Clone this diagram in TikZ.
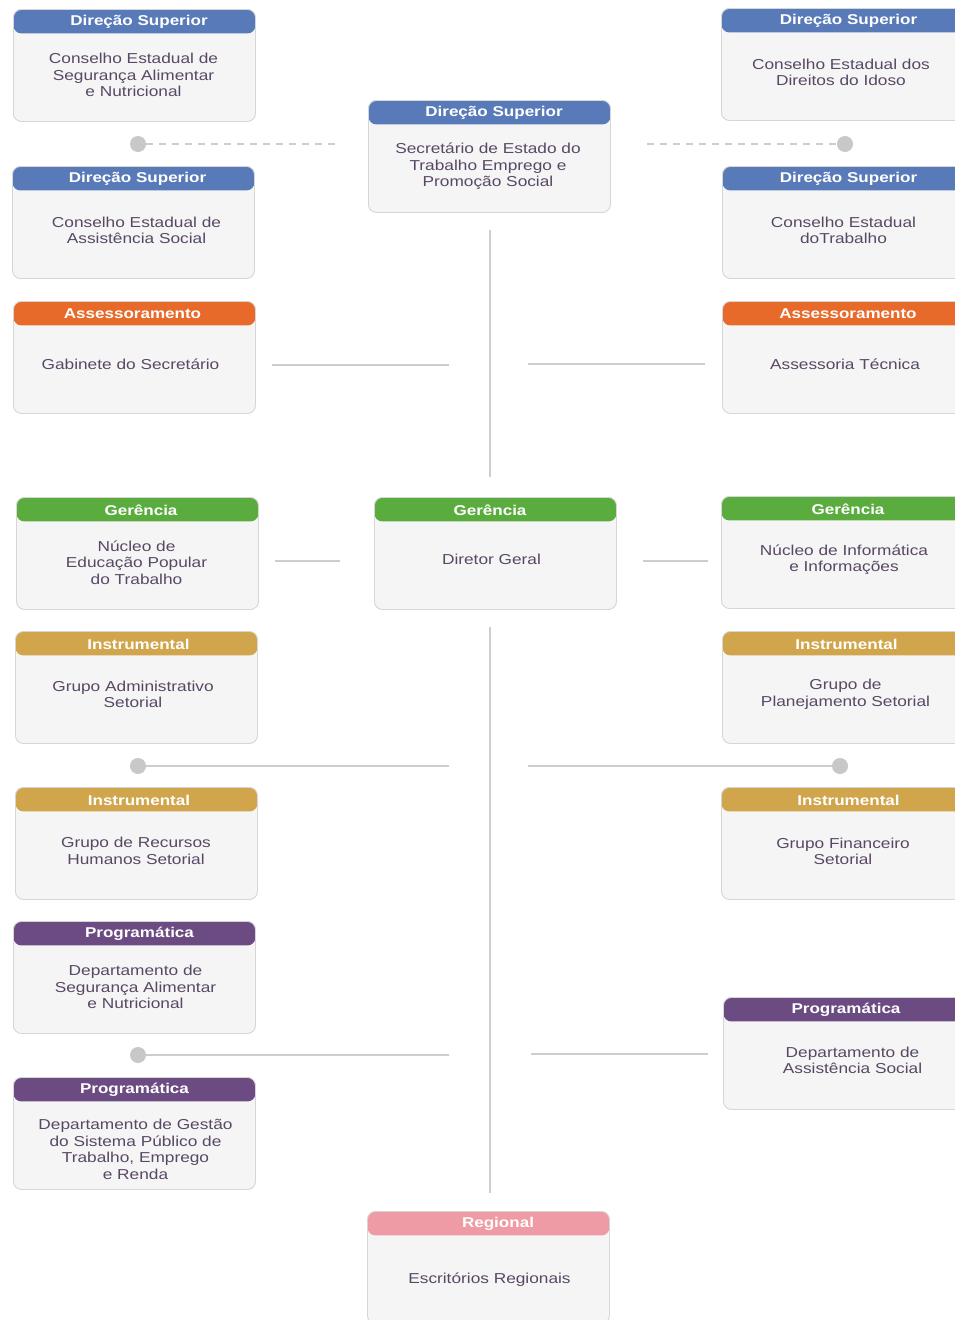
\documentclass[tikz,border=0pt]{standalone}
\usepackage{fontspec}
\setmainfont{Liberation Sans}[FakeStretch=1.2]
\definecolor{hblue}{RGB}{89,122,185}
\definecolor{horange}{RGB}{232,106,42}
\definecolor{hgreen}{RGB}{90,172,62}
\definecolor{hgold}{RGB}{208,165,75}
\definecolor{hpurple}{RGB}{108,74,130}
\definecolor{hpink}{RGB}{238,155,165}
\definecolor{bodygray}{RGB}{245,245,245}
\definecolor{bordergray}{RGB}{214,214,214}
\definecolor{txtcol}{RGB}{88,72,100}
\definecolor{linecol}{RGB}{205,205,205}
\definecolor{dotcol}{RGB}{200,200,200}
\tikzset{
  boxbody/.style={draw=bordergray, fill=bodygray, rounded corners=8pt,
    minimum width=242pt, minimum height=112pt, line width=0.9pt, inner sep=0pt},
  hdr/.style={path picture={\fill[#1] (path picture bounding box.north west)
    rectangle ([yshift=-24pt]path picture bounding box.north east);}},
  titletxt/.style={text=white, font=\bfseries\fontsize{14.2}{16}\selectfont, inner sep=0pt},
  bodytxt/.style={text=txtcol, align=center, font=\fontsize{14.4}{16.5}\selectfont, inner sep=0pt},
  conn/.style={draw=linecol, line width=2pt},
  dashconn/.style={draw=linecol, line width=2pt, dash pattern=on 7pt off 6pt},
  dotnode/.style={circle, fill=dotcol, minimum size=16pt, inner sep=0pt}
}
% name, left x, top y, colour, title, body, body centre y, title centre x, body centre x
\newcommand\obox[9]{%
  \node[boxbody, hdr=#4, anchor=north west] (#1) at (#2,-#3) {};
  \node[titletxt] (#1t) at (#8,-#3-13) {#5};
  \node[bodytxt] (#1b) at (#9,-#7-1.5) {#6};
}
\begin{document}
\begin{tikzpicture}[x=1pt,y=1pt]
\useasboundingbox (0,0) rectangle (955,-1320);
\clip (0,0) rectangle (955,-1320);
\fill[white] (0,0) rectangle (955,-1320);

% left column
\obox{L1}{13}{9}{hblue}{Direção Superior}{Conselho Estadual de\\Segurança Alimentar\\e Nutricional}{73.5}{139}{133.5}
\obox{L2}{12}{166}{hblue}{Direção Superior}{Conselho Estadual de\\Assistência Social}{229}{137.5}{136.5}
\obox{L3}{13}{301}{horange}{Assessoramento}{Gabinete do Secretário}{363}{132.5}{130.5}
\obox{L4}{16}{497}{hgreen}{Gerência}{Núcleo de\\Educação Popular\\do Trabalho}{561}{141}{136.5}
\obox{L5}{15}{631}{hgold}{Instrumental}{Grupo Administrativo\\Setorial}{693}{138.5}{133}
\obox{L6}{15}{787}{hgold}{Instrumental}{Grupo de Recursos\\Humanos Setorial}{849.5}{139}{136}
\obox{L7}{13}{921}{hpurple}{Programática}{Departamento de\\Segurança Alimentar\\e Nutricional}{985.5}{139.5}{135.5}
\obox{L8}{13}{1077}{hpurple}{Programática}{Departamento de Gestão\\do Sistema Público de\\Trabalho, Emprego\\e Renda}{1148}{134.5}{135.5}

% centre column
\obox{C1}{368}{100}{hblue}{Direção Superior}{Secretário de Estado do\\Trabalho Emprego e\\Promoção Social}{165}{494}{488}
\obox{C2}{374}{497}{hgreen}{Gerência}{Diretor Geral}{558}{490}{491.5}
\obox{C3}{367}{1211}{hpink}{Regional}{Escritórios Regionais}{1278}{498}{489.5}

% right column
\obox{R1}{721}{8}{hblue}{Direção Superior}{Conselho Estadual dos\\Direitos do Idoso}{71}{848.5}{841}
\obox{R2}{722}{166}{hblue}{Direção Superior}{Conselho Estadual\\doTrabalho}{229}{848.5}{843.5}
\obox{R3}{722}{301}{horange}{Assessoramento}{Assessoria Técnica}{363}{848}{845}
\obox{R4}{721}{496}{hgreen}{Gerência}{Núcleo de Informática\\e Informações}{558}{848}{844}
\obox{R5}{722}{631}{hgold}{Instrumental}{Grupo de\\Planejamento Setorial}{693}{846.5}{845.5}
\obox{R6}{721}{787}{hgold}{Instrumental}{Grupo Financeiro\\Setorial}{850}{848.5}{843}
\obox{R7}{723}{997}{hpurple}{Programática}{Departamento de\\Assistência Social}{1059}{846}{852.5}

% connectors
\coordinate (v1a) at (490,-230); \coordinate (v1b) at (490,-477);
\coordinate (v2a) at (490,-627); \coordinate (v2b) at (490,-1193);
\draw[conn] (v1a) -- (v1b);
\draw[conn] (v2a) -- (v2b);

\node[dotnode] (dL1) at (138,-144) {};
\coordinate (eL1) at (335,-144);
\draw[dashconn] (dL1) -- (eL1);
\node[dotnode] (dR1) at (845,-144) {};
\coordinate (eR1) at (647,-144);
\draw[dashconn] (eR1) -- (dR1);

\coordinate (aL) at (272,-365); \coordinate (bL) at (449,-365);
\draw[conn] (aL) -- (bL);
\coordinate (aR) at (528,-364); \coordinate (bR) at (705,-364);
\draw[conn] (aR) -- (bR);

\coordinate (gL1) at (275,-561); \coordinate (gL2) at (340,-561);
\draw[conn] (gL1) -- (gL2);
\coordinate (gR1) at (643,-561); \coordinate (gR2) at (708,-561);
\draw[conn] (gR1) -- (gR2);

\node[dotnode] (dL2) at (138,-766) {};
\coordinate (eL2) at (449,-766);
\draw[conn] (dL2) -- (eL2);
\node[dotnode] (dR2) at (840,-766) {};
\coordinate (eR2) at (528,-766);
\draw[conn] (eR2) -- (dR2);

\node[dotnode] (dL3) at (138,-1055) {};
\coordinate (eL3) at (449,-1055);
\draw[conn] (dL3) -- (eL3);
\coordinate (pR1) at (531,-1054); \coordinate (pR2) at (708,-1054);
\draw[conn] (pR1) -- (pR2);
\end{tikzpicture}
\end{document}
